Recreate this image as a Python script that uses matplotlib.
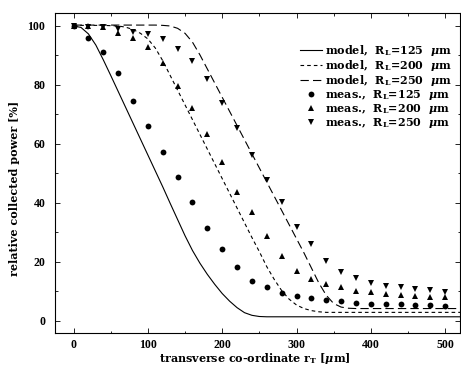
import matplotlib
matplotlib.use("Agg")
import matplotlib.pyplot as plt
from matplotlib.ticker import MultipleLocator

plt.rcParams['font.family'] = ['DejaVu Serif']
plt.rcParams['font.weight'] = 'bold'
plt.rcParams['mathtext.fontset'] = 'custom'
plt.rcParams['mathtext.rm'] = 'DejaVu Serif:bold'
plt.rcParams['mathtext.it'] = 'DejaVu Serif:italic:bold'
plt.rcParams['mathtext.bf'] = 'DejaVu Serif:bold'
plt.rcParams['lines.scale_dashes'] = False

# ---- model curves ----
model_x = [0, 10, 20, 30, 40, 50, 60, 70, 80, 90, 100, 110, 120, 130, 140, 150,
           160, 170, 180, 190, 200, 210, 220, 230, 240, 250, 260, 270, 280, 290,
           300, 310, 320, 330, 340, 350, 360, 370, 380, 400, 450, 520]
model_125 = [100, 99.5, 97.3, 93.5, 88.5, 83.2, 77.8, 72.4, 67.0, 61.6, 56.2, 50.8,
             45.4, 39.8, 34.3, 28.8, 23.8, 19.5, 15.7, 12.3, 9.2, 6.6, 4.4, 2.7,
             1.8, 1.4, 1.3, 1.3, 1.3, 1.3, 1.3, 1.3, 1.3, 1.3, 1.3, 1.3, 1.3, 1.3,
             1.3, 1.3, 1.3, 1.3]
model_200 = [100.2, 100.2, 100.2, 100.2, 100.2, 100.1, 100.0, 99.6, 98.8, 97.5, 95.6,
             92.5, 88.2, 83.2, 78.2, 73.2, 68.2, 63.2, 58.2, 53.2, 48.2, 43.2, 38.2,
             33.2, 28.2, 23.4, 18.3, 14.0, 10.2, 7.3, 5.3, 4.1, 3.4, 3.0, 2.8, 2.8,
             2.8, 2.8, 2.8, 2.8, 2.8, 2.8]
model_250 = [100.3, 100.3, 100.3, 100.3, 100.3, 100.3, 100.3, 100.3, 100.3, 100.3,
             100.3, 100.3, 100.2, 100.0, 99.2, 97.5, 94.5, 90.2, 85.4, 80.6, 75.8,
             71.0, 66.2, 61.4, 56.6, 51.8, 47.0, 42.2, 37.4, 32.6, 27.8, 23.0, 17.9,
             12.8, 8.6, 5.8, 4.6, 4.2, 4.1, 4.1, 4.1, 4.1]

# ---- measurements ----
meas_x = [0, 20, 40, 60, 80, 100, 120, 140, 160, 180, 200, 220, 240, 260, 280,
          300, 320, 340, 360, 380, 400, 420, 440, 460, 480, 500]
meas_125 = [100, 96.0, 91.1, 83.9, 74.6, 66.1, 57.3, 48.8, 40.1, 31.5, 24.2, 18.1,
            13.5, 11.3, 9.4, 8.4, 7.7, 7.0, 6.5, 6.0, 5.8, 5.6, 5.5, 5.2, 5.2, 4.9]
meas_200 = [100, 100, 99.5, 97.7, 96.0, 92.8, 87.3, 79.6, 72.3, 63.2, 53.7, 43.7,
            36.8, 28.7, 21.9, 16.9, 14.2, 12.3, 11.5, 10.0, 9.6, 9.2, 8.8, 8.4, 8.1, 7.9]
meas_250 = [100, 99.8, 99.7, 98.9, 98.1, 97.3, 95.5, 92.2, 88.2, 81.9, 74.0, 65.3,
            56.1, 47.7, 40.3, 31.9, 26.0, 20.2, 16.5, 14.5, 12.8, 11.8, 11.3, 10.6,
            10.3, 9.8]

labels = [r'model,  R$_{\mathrm{L}}$=125  $\mu$m',
          r'model,  R$_{\mathrm{L}}$=200  $\mu$m',
          r'model,  R$_{\mathrm{L}}$=250  $\mu$m',
          r'meas.,  R$_{\mathrm{L}}$=125  $\mu$m',
          r'meas.,  R$_{\mathrm{L}}$=200  $\mu$m',
          r'meas.,  R$_{\mathrm{L}}$=250  $\mu$m']

W, H = 461, 372
fig = plt.figure(figsize=(W / 100, H / 100), dpi=100)
ax = fig.add_axes([55 / W, 1 - 333 / H, (460 - 55) / W, (333 - 13) / H])

ax.plot(model_x, model_125, color='black', lw=0.8, label=labels[0])
ax.plot(model_x, model_200, color='black', lw=0.8, dashes=(2.6, 2.2), label=labels[1])
ax.plot(model_x, model_250, color='black', lw=0.8, dashes=(6, 3), label=labels[2])
ax.plot(meas_x, meas_125, 'o', color='black', ms=4.2, mew=0, label=labels[3])
ax.plot(meas_x, meas_200, '^', color='black', ms=3.8, mew=0, label=labels[4])
ax.plot(meas_x, meas_250, 'v', color='black', ms=3.8, mew=0, label=labels[5])

ax.set_xlim(-25, 520)
ax.set_ylim(-4.2, 104.4)
ax.xaxis.set_major_locator(MultipleLocator(100))
ax.xaxis.set_minor_locator(MultipleLocator(50))
ax.yaxis.set_major_locator(MultipleLocator(20))
ax.yaxis.set_minor_locator(MultipleLocator(10))
ax.tick_params(which='both', direction='in', top=True, right=True, width=0.6)
ax.tick_params(which='major', length=3.6)
ax.tick_params(which='minor', length=1.8)
ax.tick_params(axis='y', pad=7)
ax.tick_params(axis='x', pad=4.5)
for lab in ax.get_xticklabels() + ax.get_yticklabels():
    lab.set_fontfamily(['Liberation Serif', 'DejaVu Serif'])
    lab.set_fontweight('bold')
    lab.set_fontsize(8.6)
for s in ax.spines.values():
    s.set_linewidth(0.8)

fig.text(255 / W, 1 - 359 / H, r'transverse co-ordinate r$_{\mathrm{T}}$ [$\mu$m]',
         ha='center', va='center', fontsize=8, fontweight='bold')
fig.text(15 / W, 1 - 188 / H, 'relative collected power [%]', rotation=90,
         ha='center', va='center', fontsize=8, fontweight='bold')

leg = ax.legend(loc='upper right', bbox_to_anchor=((452 - 55) / 405, (333 - 43) / 320),
                frameon=False, borderpad=0, borderaxespad=0,
                labelspacing=0.0, handlelength=2.0, handletextpad=0.3,
                prop={'weight': 'bold', 'size': 8})

fig.savefig('out.png', dpi=100)
